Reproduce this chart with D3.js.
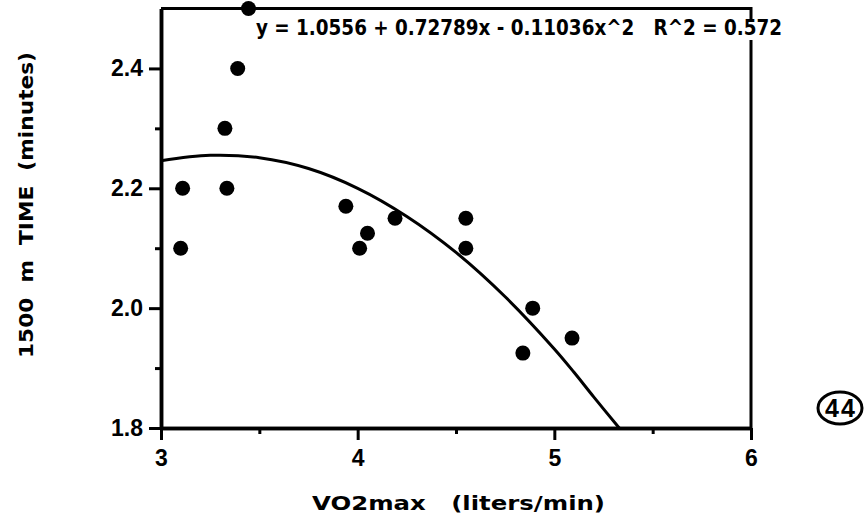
<!DOCTYPE html>
<html>
<head>
<meta charset="utf-8">
<script src="https://cdn.jsdelivr.net/npm/d3@7"></script>
<style>
  body { margin: 0; background: #fff; }
  svg text { font-family: "Liberation Sans", Arial, sans-serif; font-weight: bold; fill: #000; }
  svg text.wide { font-family: "DejaVu Sans", sans-serif; }
</style>
</head>
<body>
<div id="chart"></div>
<script>
// data points (VO2max in l/min, 1500 m time in minutes)
var vo2max = [3.10, 3.11, 3.325, 3.335, 3.39, 3.445, 3.94, 4.01, 4.05, 4.19, 4.55, 4.55, 4.84, 4.89, 5.09];
var times  = [2.10, 2.20, 2.30, 2.20, 2.40, 2.50, 2.17, 2.10, 2.125, 2.15, 2.15, 2.10, 1.925, 2.00, 1.95];

// fitted curve
var curveX = [3.0, 3.25, 3.5, 3.75, 4.0, 4.25, 4.5, 4.75, 5.0, 5.1, 5.2, 5.33];
var curveY = [2.246, 2.255, 2.251, 2.233, 2.200, 2.153, 2.093, 2.019, 1.932, 1.893, 1.852, 1.80];

var xTicks      = [3, 4, 5, 6];
var xMinorTicks = [3.5, 4.5, 5.5];
var yTicks      = [1.8, 2.0, 2.2, 2.4];
var yMinorTicks = [1.9, 2.1, 2.3];

var equation = 'y = 1.0556 + 0.72789x - 0.11036x^2   R^2 = 0.572';
var xTitle   = 'VO2max   (liters/min)';
var yTitle   = '1500  m  TIME  (minutes)';
var badge    = '44';

var W = 868, H = 523;
var svg = d3.select('#chart').append('svg')
  .attr('width', W).attr('height', H);

var x = d3.scaleLinear().domain([3, 6]).range([161, 751]);
var y = d3.scaleLinear().domain([1.8, 2.5]).range([428, 8.5]);

function styleAxis(g) {
  g.select('.domain').attr('stroke', '#000').attr('stroke-width', 3.5);
  g.selectAll('.tick line').attr('stroke', '#000').attr('stroke-width', 3);
  g.selectAll('.tick text').style('font-size', '23px');
}

// minor ticks first
svg.append('g')
  .attr('transform', 'translate(' + x(3) + ',0)')
  .call(d3.axisLeft(y).tickValues(yMinorTicks).tickSize(6).tickSizeOuter(0).tickFormat(''))
  .call(styleAxis);
svg.append('g')
  .attr('transform', 'translate(0,' + y(1.8) + ')')
  .call(d3.axisBottom(x).tickValues(xMinorTicks).tickSize(6).tickSizeOuter(0).tickFormat(''))
  .call(styleAxis);

// major ticks with labels
svg.append('g')
  .attr('transform', 'translate(' + x(3) + ',0)')
  .call(d3.axisLeft(y).tickValues(yTicks).tickSize(12).tickPadding(6).tickSizeOuter(0).tickFormat(d3.format('.1f')))
  .call(styleAxis);
svg.append('g')
  .attr('transform', 'translate(0,' + y(1.8) + ')')
  .call(d3.axisBottom(x).tickValues(xTicks).tickSize(12).tickPadding(10).tickSizeOuter(0).tickFormat(d3.format('d')))
  .call(styleAxis);

// top and right frame lines
svg.append('path')
  .attr('d', 'M' + x(3) + ',' + y(2.5) + 'H' + x(6) + 'V' + y(1.8))
  .attr('fill', 'none').attr('stroke', '#000').attr('stroke-width', 3);

// fitted curve
var line = d3.line()
  .x(function(d, i) { return x(curveX[i]); })
  .y(function(d) { return y(d); })
  .curve(d3.curveCatmullRom);
svg.append('path')
  .datum(curveY)
  .attr('d', line)
  .attr('fill', 'none').attr('stroke', '#000').attr('stroke-width', 3);

// points
svg.append('g').selectAll('circle')
  .data(vo2max)
  .join('circle')
  .attr('cx', function(d) { return x(d); })
  .attr('cy', function(d, i) { return y(times[i]); })
  .attr('r', 7.5)
  .attr('fill', '#000');

// equation label with white backing
var eqBack = svg.append('rect').attr('fill', '#fff');
var eq = svg.append('text')
  .attr('class', 'wide')
  .attr('x', 256).attr('y', 35)
  .attr('textLength', 526)
  .attr('lengthAdjust', 'spacingAndGlyphs')
  .style('white-space', 'pre')
  .style('font-size', '21px')
  .text(equation);
var bb = eq.node().getBBox();
eqBack
  .attr('x', bb.x - 2).attr('y', bb.y + 3)
  .attr('width', bb.width + 4).attr('height', bb.height - 3);

// axis titles
svg.append('text')
  .attr('class', 'wide')
  .attr('x', 312).attr('y', 510)
  .attr('textLength', 293)
  .attr('lengthAdjust', 'spacingAndGlyphs')
  .style('white-space', 'pre')
  .style('font-size', '20px')
  .text(xTitle);

svg.append('text')
  .attr('class', 'wide')
  .attr('transform', 'translate(33,358) rotate(-90)')
  .attr('textLength', 306)
  .attr('lengthAdjust', 'spacingAndGlyphs')
  .style('white-space', 'pre')
  .style('font-size', '20px')
  .text(yTitle);

// circled page mark
svg.append('ellipse')
  .attr('cx', 840).attr('cy', 408).attr('rx', 22).attr('ry', 16)
  .attr('fill', 'none').attr('stroke', '#000').attr('stroke-width', 3);
svg.append('text')
  .attr('x', 841).attr('y', 417)
  .attr('text-anchor', 'middle')
  .style('font-size', '25px')
  .style('letter-spacing', '2px')
  .text(badge);
</script>
</body>
</html>
